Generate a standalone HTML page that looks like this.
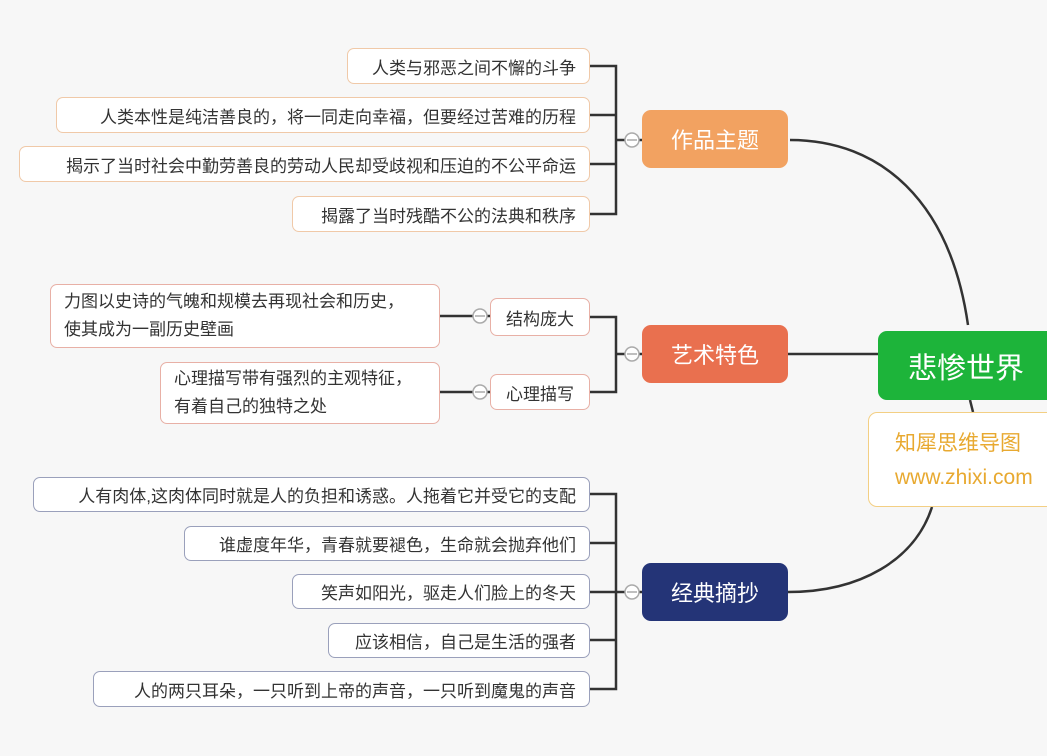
<!DOCTYPE html>
<html><head><meta charset="utf-8"><style>
body{margin:0;width:1047px;height:756px;background:#f7f7f7;overflow:hidden;position:relative;font-family:"Liberation Sans","Noto Sans CJK SC",sans-serif}
.b{position:absolute;box-sizing:border-box;border-radius:7px;background:#fff;font-size:17px;color:#333;display:flex;align-items:center;justify-content:flex-end;padding:0 13px;white-space:nowrap}
.o{border:1.5px solid #f0c9a8}
.r{border:1.5px solid #e8b0a6}
.n{border:1.5px solid #9aa0bb}
.m{position:absolute;box-sizing:border-box;border-radius:9px;color:#fff;font-size:22px;display:flex;align-items:center;justify-content:center}
.ml{justify-content:flex-start;text-align:left;line-height:28px}
</style></head><body>
<svg width="1047" height="756" style="position:absolute;left:0;top:0">
<g stroke="#333" stroke-width="2.5" fill="none">
<path d="M590 66H616V214H590M590 115H616M590 164H616M616 140H642"/>
<path d="M790 140C880 140 950 200 968 325"/>
<path d="M788 354H878"/>
<path d="M590 317H616V392H590M616 354H642"/>
<path d="M440 316H490M440 392H490"/>
<path d="M590 494H616V689H590M590 543H616M590 592H642M590 640H616"/>
<path d="M788 592C860 592 915 560 932 507"/>
<path d="M970 400L973 412"/>
</g>
<g fill="#fff" stroke="#aaa" stroke-width="1.5">
<circle cx="632" cy="140" r="7"/><circle cx="632" cy="354" r="7"/><circle cx="632" cy="592" r="7"/>
<circle cx="480" cy="316" r="7"/><circle cx="480" cy="392" r="7"/>
</g>
<g stroke="#aaa" stroke-width="1.5"><path d="M627 140H637M627 354H637M627 592H637M475 316H485M475 392H485"/></g>
</svg>
<div class="b o" style="left:347px;top:48px;width:243px;height:36px">人类与邪恶之间不懈的斗争</div>
<div class="b o" style="left:56px;top:97px;width:534px;height:36px">人类本性是纯洁善良的，将一同走向幸福，但要经过苦难的历程</div>
<div class="b o" style="left:19px;top:146px;width:571px;height:36px">揭示了当时社会中勤劳善良的劳动人民却受歧视和压迫的不公平命运</div>
<div class="b o" style="left:292px;top:196px;width:298px;height:36px">揭露了当时残酷不公的法典和秩序</div>
<div class="m" style="left:642px;top:110px;width:146px;height:58px;background:#f2a261">作品主题</div>
<div class="m" style="left:642px;top:325px;width:146px;height:58px;background:#e9704f">艺术特色</div>
<div class="m" style="left:642px;top:563px;width:146px;height:58px;background:#243477">经典摘抄</div>
<div class="b r" style="left:490px;top:298px;width:100px;height:38px;justify-content:center;padding:0">结构庞大</div>
<div class="b r" style="left:490px;top:374px;width:100px;height:36px;justify-content:center;padding:0">心理描写</div>
<div class="b r ml" style="left:50px;top:284px;width:390px;height:64px">力图以史诗的气魄和规模去再现社会和历史，<br>使其成为一副历史壁画</div>
<div class="b r ml" style="left:160px;top:362px;width:280px;height:62px">心理描写带有强烈的主观特征，<br>有着自己的独特之处</div>
<div class="b n" style="left:33px;top:477px;width:557px;height:35px">人有肉体,这肉体同时就是人的负担和诱惑。人拖着它并受它的支配</div>
<div class="b n" style="left:184px;top:526px;width:406px;height:35px">谁虚度年华，青春就要褪色，生命就会抛弃他们</div>
<div class="b n" style="left:292px;top:574px;width:298px;height:35px">笑声如阳光，驱走人们脸上的冬天</div>
<div class="b n" style="left:328px;top:623px;width:262px;height:35px">应该相信，自己是生活的强者</div>
<div class="b n" style="left:93px;top:671px;width:497px;height:36px">人的两只耳朵，一只听到上帝的声音，一只听到魔鬼的声音</div>
<div class="m" style="left:878px;top:331px;width:180px;height:69px;background:#1db43a;font-size:29px;justify-content:flex-start;padding-left:30px">悲惨世界</div>
<div style="position:absolute;left:868px;top:412px;width:190px;height:95px;box-sizing:border-box;border:1.5px solid #f3cf84;border-radius:9px;background:#fff;color:#e8a930;font-size:21px;padding:14px 0 0 26px;line-height:34px;white-space:nowrap">知犀思维导图<br>www.zhixi.com</div>
</body></html>
